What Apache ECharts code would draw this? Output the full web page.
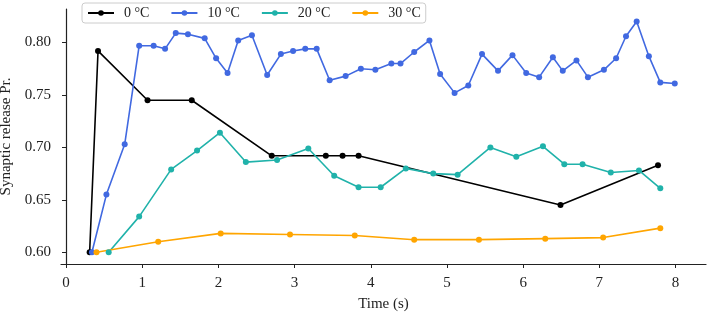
<!DOCTYPE html>
<html>
<head>
<meta charset="utf-8">
<script src="https://cdn.jsdelivr.net/npm/echarts@6/dist/echarts.min.js"></script>
<style>
  html, body { margin: 0; padding: 0; background: #fff; }
  #chart { width: 708px; height: 313px; }
</style>
</head>
<body>
<div id="chart"></div>
<script>
// 各温度下的突触释放概率
const seriesNames = ['0 °C', '10 °C', '20 °C', '30 °C']
const colors = ['#000000', '#4169e1', '#20b2aa', '#ffa500']

const t0 = [0.31, 0.42, 1.07, 1.65, 2.70, 3.41, 3.63, 3.84, 6.49, 7.77]
const v0 = [0.600, 0.792, 0.745, 0.745, 0.692, 0.692, 0.692, 0.692, 0.645, 0.683]

const t10 = [0.34, 0.53, 0.77, 0.96, 1.15, 1.30, 1.44, 1.60, 1.82, 1.97, 2.12, 2.26, 2.44, 2.64, 2.82,
  2.98, 3.14, 3.29, 3.46, 3.67, 3.87, 4.06, 4.27, 4.39, 4.57, 4.77, 4.91, 5.10, 5.28, 5.46,
  5.67, 5.86, 6.04, 6.21, 6.39, 6.52, 6.70, 6.85, 7.06, 7.22, 7.35, 7.49, 7.65, 7.80, 7.99]
const v10 = [0.600, 0.655, 0.703, 0.797, 0.797, 0.794, 0.809, 0.808, 0.804, 0.785, 0.771, 0.802, 0.807, 0.769, 0.789,
  0.792, 0.794, 0.794, 0.764, 0.768, 0.775, 0.774, 0.780, 0.780, 0.791, 0.802, 0.770, 0.752, 0.759, 0.789,
  0.773, 0.788, 0.771, 0.767, 0.786, 0.773, 0.783, 0.767, 0.774, 0.785, 0.806, 0.820, 0.787, 0.762, 0.761]

const t20 = [0.56, 0.96, 1.38, 1.72, 2.02, 2.36, 2.77, 3.18, 3.52, 3.84, 4.13, 4.46, 4.82, 5.14, 5.57,
  5.91, 6.26, 6.54, 6.78, 7.15, 7.52, 7.80]
const v20 = [0.600, 0.634, 0.679, 0.697, 0.714, 0.686, 0.688, 0.699, 0.673, 0.662, 0.662, 0.680, 0.675, 0.674, 0.700,
  0.691, 0.701, 0.684, 0.684, 0.676, 0.678, 0.661]

const t30 = [0.40, 1.21, 2.03, 2.94, 3.79, 4.57, 5.42, 6.29, 7.05, 7.80]
const v30 = [0.600, 0.610, 0.618, 0.617, 0.616, 0.612, 0.612, 0.613, 0.614, 0.623]

const xTicks = [0, 1, 2, 3, 4, 5, 6, 7, 8]
const yTicks = [0.60, 0.65, 0.70, 0.75, 0.80]

const times = [t0, t10, t20, t30]
const values = [v0, v10, v20, v30]

const FONT = '"Liberation Serif", "DejaVu Serif", serif'
const chart = echarts.init(document.getElementById('chart'))

function buildOption() {
  return {
    animation: false,
    color: colors,
    textStyle: { fontFamily: FONT },
    legend: {
      left: 82,
      top: 3,
      padding: [3, 5, 3, 5],
      itemWidth: 26,
      itemHeight: 7,
      itemGap: 21,
      borderColor: '#cccccc',
      borderWidth: 1,
      borderRadius: 3,
      backgroundColor: 'rgba(255,255,255,0.8)',
      textStyle: { fontFamily: FONT, fontSize: 14, color: '#222', padding: [0, 0, 0, 5] },
      data: seriesNames
    },
    grid: { left: 61, right: 2, top: 9, bottom: 49, containLabel: false, outerBoundsMode: 'none' },
    xAxis: {
      type: 'value',
      min: -0.066,
      max: 8.4,
      name: 'Time (s)',
      nameLocation: 'middle',
      nameGap: 33,
      nameTextStyle: { fontFamily: FONT, fontSize: 15, color: '#222' },
      axisLine: { lineStyle: { color: '#222', width: 1.2 } },
      axisTick: { show: true, length: 4, customValues: xTicks, lineStyle: { color: '#222' } },
      axisLabel: { customValues: xTicks, margin: 12, fontFamily: FONT, fontSize: 15, color: '#222' },
      splitLine: { show: false }
    },
    yAxis: {
      type: 'value',
      min: 0.5888,
      max: 0.832,
      name: 'Synaptic release Pr.',
      nameLocation: 'middle',
      nameGap: 45,
      nameTextStyle: { fontFamily: FONT, fontSize: 15, color: '#222' },
      axisLine: { show: true, lineStyle: { color: '#222', width: 1.2 } },
      axisTick: { show: true, length: 4, customValues: yTicks, lineStyle: { color: '#222' } },
      axisLabel: {
        customValues: yTicks,
        margin: 10,
        fontFamily: FONT,
        fontSize: 15,
        color: '#222',
        formatter: (v) => v.toFixed(2)
      },
      splitLine: { show: false }
    },
    series: seriesNames.map((name, i) => ({
      name,
      type: 'line',
      data: times[i].map((t, j) => [t, values[i][j]]),
      symbol: 'circle',
      symbolSize: 6,
      showSymbol: true,
      lineStyle: { width: 1.6, color: colors[i] },
      itemStyle: { color: colors[i] }
    }))
  }
}

chart.setOption(buildOption())
</script>
</body>
</html>
